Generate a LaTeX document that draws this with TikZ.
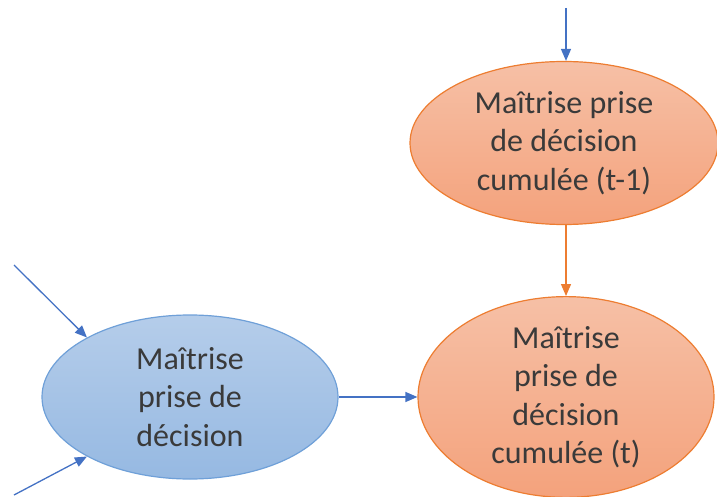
\documentclass[tikz,border=0pt]{standalone}
\usepackage{fontspec}
\setmainfont{Carlito}
\usetikzlibrary{shapes.geometric,arrows.meta}
\definecolor{blueline}{HTML}{4472C4}
\definecolor{blueedge}{HTML}{6FA0D8}
\definecolor{bluetop}{HTML}{B5CDEA}
\definecolor{bluebot}{HTML}{96B9E2}
\definecolor{orangeline}{HTML}{ED7D31}
\definecolor{orangetop}{HTML}{F6C0A6}
\definecolor{orangebot}{HTML}{F4A27C}
\definecolor{txt}{HTML}{3A3A3A}
\begin{document}
\begin{tikzpicture}[
    x=1pt, y=1pt,
    bubble/.style={
        ellipse,
        draw,
        line width=1.2pt,
        inner sep=0pt,
        align=center,
        text=txt,
        font=\fontsize{32}{38.5}\selectfont
    },
    warm/.style={
        bubble,
        draw=orangeline,
        top color=orangetop,
        bottom color=orangebot
    },
    cool/.style={
        bubble,
        draw=blueedge,
        top color=bluetop,
        bottom color=bluebot
    },
    link/.style={
        -{Triangle[length=12pt,width=10pt]},
        line width=1.3pt
    }
]
    \useasboundingbox (0,0) rectangle (717,-497);

    % --- Ellipses ---
    \node[warm, minimum width=308, minimum height=163] (cumprev) at (564,-143)
        {Maîtrise prise\\de décision\\cumulée (t-1)};
    \node[warm, minimum width=296, minimum height=163] (cum) at (566,-397)
        {Maîtrise\\prise de\\décision\\cumulée (t)};
    \node[cool, minimum width=296, minimum height=164] (dec) at (190,-397)
        {Maîtrise\\prise de\\décision};

    % --- Incoming ends ---
    \coordinate (topin) at (566,-8);
    \coordinate (leftup) at (14,-265);
    \coordinate (leftdown) at (14,-495);

    % --- Arrows ---
    \draw[link, blueline] (topin) -- (topin |- cumprev.north);
    \draw[link, orangeline] (cumprev.south -| cum.north) -- (cum.north);
    \draw[link, blueline] (dec.east) -- (cum.west);
    \draw[link, blueline] (leftup) -- (dec.150);
    \draw[link, blueline] (leftdown) -- (dec.210);
\end{tikzpicture}
\end{document}
